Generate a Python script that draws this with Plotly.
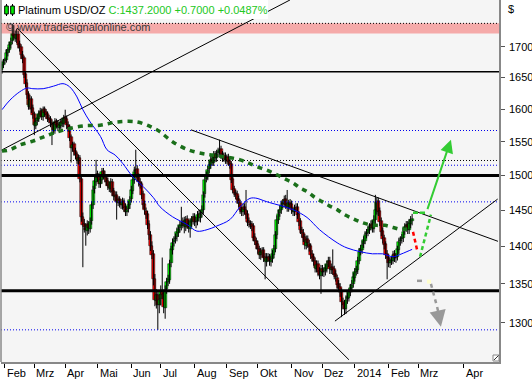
import numpy as np
import plotly.graph_objects as go

# ---------------- data (daily Platinum USD/OZ candles, bar index = trading day) ----------------
opens = [
1662,1670,1676,1678,1690,1695,1702,1709,1726,1719,
1712,1721,1704,1699,1687,1681,1655,1641,1623,1604,
1615,1601,1592,1574,1581,1585,1593,1597,1587,1600,
1595,1592,1586,1584,1579,1576,1567,1581,1577,1571,
1574,1581,1577,1587,1585,1576,1572,1557,1540,1546,
1536,1531,1521,1526,1495,1441,1431,1426,1421,1431,
1424,1435,1457,1480,1491,1502,1498,1487,1493,1506,
1501,1497,1492,1486,1481,1491,1477,1469,1472,1461,
1466,1461,1457,1463,1455,1447,1452,1457,1466,1478,
1493,1506,1509,1498,1491,1487,1473,1459,1449,1445,
1431,1416,1401,1390,1357,1328,1336,1322,1330,1341,
1337,1319,1343,1353,1355,1377,1395,1406,1410,1413,
1419,1425,1428,1431,1435,1427,1438,1431,1424,1433,
1436,1441,1433,1435,1445,1439,1446,1450,1473,1495,
1499,1509,1515,1524,1519,1531,1525,1533,1534,1539,
1531,1525,1529,1522,1527,1521,1517,1495,1480,1474,
1473,1466,1461,1450,1447,1455,1451,1445,1435,1431,
1431,1428,1413,1407,1403,1397,1388,1391,1395,1386,
1379,1386,1386,1379,1383,1389,1397,1415,1436,1446,
1450,1459,1459,1466,1459,1453,1461,1459,1450,1447,
1453,1455,1445,1435,1422,1419,1413,1401,1410,1404,
1400,1390,1386,1381,1370,1376,1367,1361,1370,1365,
1367,1370,1377,1381,1368,1372,1369,1363,1358,1350,
1346,1340,1327,1324,1317,1330,1332,1340,1344,1350,
1358,1366,1368,1381,1393,1395,1403,1408,1417,1419,
1422,1428,1431,1424,1436,1450,1463,1449,1435,1421,
1411,1403,1390,1384,1377,1381,1381,1390,1384,1386,
1395,1407,1410,1411,1421,1426,1430,1422,1431,1435,
]
highs = [
1676,1680,1682,1696,1699,1708,1715,1738,1736,1727,
1730,1726,1710,1704,1693,1685,1660,1647,1628,1622,
1620,1607,1596,1586,1592,1598,1602,1601,1604,1604,
1600,1596,1591,1589,1584,1580,1586,1585,1582,1580,
1585,1585,1591,1599,1590,1581,1576,1561,1550,1550,
1541,1535,1531,1530,1499,1447,1438,1432,1436,1435,
1440,1463,1485,1498,1523,1507,1503,1500,1511,1511,
1507,1502,1497,1491,1496,1495,1482,1477,1477,1470,
1470,1466,1468,1467,1460,1456,1463,1470,1485,1500,
1513,1538,1515,1503,1496,1491,1478,1464,1454,1449,
1436,1421,1407,1395,1363,1343,1341,1337,1348,1385,
1342,1348,1358,1362,1382,1401,1411,1414,1418,1426,
1429,1435,1455,1440,1441,1442,1443,1437,1439,1442,
1446,1446,1441,1449,1451,1450,1457,1477,1500,1506,
1514,1522,1529,1529,1536,1536,1538,1541,1553,1544,
1536,1534,1534,1531,1532,1526,1521,1500,1485,1479,
1478,1471,1465,1455,1460,1460,1479,1450,1440,1436,
1435,1432,1418,1412,1408,1401,1398,1399,1399,1391,
1391,1391,1390,1388,1395,1402,1421,1443,1451,1457,
1464,1466,1471,1472,1479,1465,1466,1464,1455,1458,
1460,1460,1449,1439,1427,1424,1417,1415,1415,1409,
1404,1395,1390,1385,1381,1381,1372,1375,1375,1372,
1376,1381,1386,1386,1377,1396,1374,1368,1362,1355,
1351,1344,1332,1329,1335,1339,1344,1350,1355,1365,
1371,1374,1386,1398,1402,1408,1414,1421,1424,1428,
1432,1436,1436,1443,1472,1468,1468,1454,1440,1426,
1416,1407,1395,1389,1386,1387,1394,1395,1391,1401,
1412,1414,1417,1426,1432,1435,1435,1438,1442,1445,
]
lows = [
1656,1665,1671,1674,1684,1690,1697,1704,1711,1708,
1706,1697,1692,1680,1673,1649,1634,1616,1599,1599,
1594,1585,1560,1569,1575,1580,1587,1583,1582,1588,
1585,1580,1578,1572,1545,1562,1562,1570,1566,1566,
1569,1572,1572,1578,1569,1565,1551,1519,1535,1529,
1524,1517,1516,1490,1434,1372,1419,1401,1415,1417,
1419,1430,1452,1474,1485,1491,1482,1482,1488,1494,
1490,1485,1479,1476,1475,1470,1464,1463,1437,1456,
1454,1452,1451,1448,1442,1442,1447,1452,1461,1473,
1488,1500,1491,1484,1481,1466,1452,1444,1438,1424,
1409,1394,1383,1348,1321,1318,1291,1312,1322,1330,
1312,1305,1337,1347,1350,1372,1389,1400,1404,1407,
1413,1419,1422,1425,1418,1421,1424,1419,1412,1427,
1430,1428,1425,1429,1434,1433,1440,1445,1468,1490,
1493,1503,1510,1514,1514,1520,1520,1527,1529,1524,
1520,1520,1517,1517,1514,1510,1489,1474,1469,1466,
1459,1454,1445,1442,1442,1444,1438,1428,1426,1424,
1421,1407,1402,1396,1390,1383,1382,1385,1379,1356,
1373,1379,1374,1373,1378,1384,1392,1410,1431,1441,
1445,1453,1454,1452,1448,1448,1452,1445,1442,1442,
1448,1438,1428,1417,1412,1406,1396,1396,1398,1393,
1383,1379,1374,1365,1365,1360,1356,1337,1360,1359,
1361,1365,1372,1363,1363,1362,1356,1353,1343,1339,
1333,1307,1317,1310,1311,1324,1327,1334,1339,1345,
1353,1361,1363,1376,1388,1390,1398,1403,1411,1414,
1417,1422,1419,1419,1431,1444,1442,1428,1414,1404,
1396,1383,1356,1372,1371,1375,1376,1379,1378,1381,
1390,1401,1404,1406,1416,1420,1417,1417,1425,1429,
]
closes = [
1670,1675,1678,1690,1694,1702,1708,1725,1718,1714,
1720,1703,1698,1686,1680,1654,1640,1622,1606,1614,
1600,1591,1575,1580,1586,1592,1596,1588,1599,1594,
1591,1585,1583,1578,1575,1568,1580,1576,1572,1575,
1580,1578,1586,1584,1575,1571,1556,1541,1545,1535,
1530,1522,1526,1495,1440,1430,1427,1422,1430,1425,
1434,1458,1479,1492,1501,1497,1488,1494,1505,1500,
1496,1491,1485,1482,1490,1476,1470,1471,1462,1465,
1460,1458,1462,1454,1448,1451,1458,1465,1479,1494,
1505,1508,1497,1490,1486,1472,1458,1450,1444,1430,
1415,1400,1389,1356,1329,1335,1323,1329,1340,1336,
1320,1342,1352,1356,1376,1396,1405,1409,1412,1420,
1424,1429,1430,1434,1428,1437,1430,1425,1434,1437,
1440,1434,1434,1444,1440,1445,1451,1472,1494,1500,
1508,1516,1523,1520,1530,1526,1532,1535,1538,1530,
1526,1528,1523,1526,1520,1516,1494,1479,1475,1472,
1465,1460,1451,1448,1454,1450,1444,1434,1432,1430,
1427,1412,1408,1402,1396,1389,1392,1394,1385,1380,
1385,1385,1380,1382,1390,1396,1416,1437,1445,1451,
1458,1460,1465,1458,1454,1460,1458,1451,1448,1452,
1454,1444,1434,1423,1418,1412,1402,1409,1405,1399,
1389,1385,1380,1371,1375,1366,1362,1369,1366,1366,
1371,1376,1380,1369,1371,1368,1362,1359,1349,1345,
1339,1326,1323,1318,1329,1333,1339,1345,1349,1359,
1365,1369,1380,1392,1396,1402,1409,1416,1418,1423,
1427,1430,1425,1437,1451,1462,1448,1434,1420,1410,
1402,1389,1385,1378,1380,1382,1389,1385,1385,1396,
1406,1409,1412,1420,1427,1429,1423,1432,1436,1437.2,
]

# moving averages (bar index, price)
ma_fast_x = [0,5.4,12,17,21,28,35,41.5,46,51,55,60,67,71.4,77,82,89,96,103,107.5,116,126,132.6,
             139.5,146,155,162,168.7,173.5,177.6,182,189,198,207.5,216,228,234.7,243.5,252,259,266,270.7,275.5,279]
ma_fast_y = [1599,1614,1627,1633,1632,1632,1636,1640,1635,1619,1599,1580,1558,1538,1530,1518,1498,1484,1468,1455,1441,1430,1421,
             1423,1428,1437,1455,1467,1467,1464,1461,1457,1451,1440,1423,1405,1398,1393,1390,1390,1386,1389,1393,1396]
ma_slow_x = [0,5.4,12,21,28,35,44,55,66.7,78,92,102,107.5,116,126.5,137,143.5,153,162,166.7,173.5,181,187,192.5,
             198,202.7,208,213,218,223,228,233,239,243.5,248,255,260.5,266,272,276,279]
ma_slow_y = [1536,1538,1545,1551,1557,1563,1569,1574,1575,1580,1580,1572,1565,1550,1538,1532,1530,1527,1523,1519,1513,1507,1501,1495,
             1489,1482,1476,1468,1462,1456,1451,1444,1438,1434,1431,1429,1429,1426,1423,1424,1424]

# axis ticks
month_ticks = [2, 22, 43, 65, 88, 108, 131, 153, 174, 197, 218, 240, 263, 283, 314]
month_labels = ["Feb", "Mrz", "Apr", "Mai", "Jun", "Jul", "Aug", "Sep", "Okt", "Nov", "Dez", "2014", "Feb", "Mrz", "Apr"]
price_ticks = [1300, 1350, 1400, 1450, 1500, 1550, 1600, 1650, 1700]

# horizontal levels
thick_levels = [1500, 1341]
thin_levels = [1659]
blue_dot_levels = [1567, 1515, 1462, 1291]
black_dot_levels = [1522, 1739]
resistance_zone = [1722, 1739]

# trend lines (bar index, price) pairs
trend_lines = [
    ([10.2, 236.0], [1731, 1254]),
    ([-0.7, 195.9], [1537, 1779]),
    ([128.6, 337.4], [1568, 1407]),
    ([226.5, 337.2], [1302, 1466]),
]

# projection paths
proj_red_x, proj_red_y = [279.6, 282.3], [1420, 1396]
proj_up_x, proj_up_y = [284.4, 291.8], [1386, 1444]
proj_flat_x, proj_flat_y = [279.6, 287.8], [1446.7, 1446.7]
arrow_up = (289.1, 1449.6, 305.4, 1553)
gray_flat_x, gray_flat_y = [282.3, 286.4], [1354, 1354]
gray_path_x, gray_path_y = [291.8, 293.9, 296.0, 297.5], [1350, 1336, 1320, 1308]
gray_arrow = (296.5, 1314, 298.6, 1295)
gray_dot = (290.5, 1353)

X0, X1 = -0.68, 338.1
LOGY0, LOGY1 = 3.09735, 3.25016

FONT = "Liberation Sans, Arial, sans-serif"

fig = go.Figure()

# resistance zone (pink band)
fig.add_trace(go.Scatter(x=[X0, X1, X1, X0], y=[resistance_zone[0], resistance_zone[0], resistance_zone[1], resistance_zone[1]],
                         fill="toself", fillcolor="#f5aaa9", line=dict(width=0), mode="lines", hoverinfo="skip"))

# candles: wicks
wx, wy = [], []
for i, (h, l) in enumerate(zip(highs, lows)):
    wx += [i, i, None]
    wy += [l, h, None]
fig.add_trace(go.Scatter(x=wx, y=wy, mode="lines", line=dict(color="black", width=1), hoverinfo="skip"))

# candles: bodies
idx = list(range(len(closes)))
base = [min(o, c) for o, c in zip(opens, closes)]
size = [max(abs(c - o), 0.8) for o, c in zip(opens, closes)]
cols = ["#00ff00" if c >= o else "#ff0000" for o, c in zip(opens, closes)]
fig.add_trace(go.Bar(x=idx, y=size, base=base, width=2.0, marker=dict(color=cols, line=dict(color="black", width=0.5)),
                     hoverinfo="skip"))

# horizontal lines
for lv in thick_levels:
    fig.add_trace(go.Scatter(x=[X0, X1], y=[lv, lv], mode="lines", line=dict(color="black", width=3), hoverinfo="skip"))
for lv in thin_levels:
    fig.add_trace(go.Scatter(x=[X0, X1], y=[lv, lv], mode="lines", line=dict(color="black", width=1.5), hoverinfo="skip"))
for lv in blue_dot_levels:
    fig.add_trace(go.Scatter(x=[X0, X1], y=[lv, lv], mode="lines", line=dict(color="#0000ee", width=1, dash="1px,2px"), hoverinfo="skip"))
for lv in black_dot_levels:
    fig.add_trace(go.Scatter(x=[X0, X1], y=[lv, lv], mode="lines", line=dict(color="black", width=1, dash="1px,2px"), hoverinfo="skip"))

# trend lines
for tx, ty in trend_lines:
    fig.add_trace(go.Scatter(x=tx, y=ty, mode="lines", line=dict(color="black", width=1), hoverinfo="skip"))

# moving averages
fig.add_trace(go.Scatter(x=ma_fast_x, y=ma_fast_y, mode="lines", line=dict(color="#0000ff", width=1, shape="spline"), hoverinfo="skip"))
fig.add_trace(go.Scatter(x=ma_slow_x, y=ma_slow_y, mode="lines", line=dict(color="#1a6f1a", width=3.5, dash="5px,5px", shape="spline"), hoverinfo="skip"))

# projections
fig.add_trace(go.Scatter(x=proj_red_x, y=proj_red_y, mode="lines", line=dict(color="#ff0000", width=2.5, dash="4px,3px"), hoverinfo="skip"))
fig.add_trace(go.Scatter(x=proj_up_x, y=proj_up_y, mode="lines", line=dict(color="#33cc33", width=2.5, dash="4px,3px"), hoverinfo="skip"))
fig.add_trace(go.Scatter(x=proj_flat_x, y=proj_flat_y, mode="lines", line=dict(color="#33cc33", width=2.5, dash="5px,2px"), hoverinfo="skip"))
fig.add_trace(go.Scatter(x=gray_flat_x, y=gray_flat_y, mode="lines", line=dict(color="#999999", width=2.5, dash="5px,2px"), hoverinfo="skip"))
fig.add_trace(go.Scatter(x=gray_path_x, y=gray_path_y, mode="lines", line=dict(color="#999999", width=2.5, dash="4px,4px"), hoverinfo="skip"))
fig.add_trace(go.Scatter(x=[gray_dot[0]], y=[gray_dot[1]], mode="markers",
                         marker=dict(color="#ffffcc", size=4, symbol="square"), hoverinfo="skip"))

annotations = []
annotations.append(dict(x=arrow_up[2], y=np.log10(arrow_up[3]), ax=arrow_up[0], ay=np.log10(arrow_up[1]),
                        xref="x", yref="y", axref="x", ayref="y", showarrow=True, arrowhead=2, arrowsize=1.3,
                        arrowwidth=2, arrowcolor="#33cc33", text=""))
annotations.append(dict(x=gray_arrow[2], y=np.log10(gray_arrow[3]), ax=gray_arrow[0], ay=np.log10(gray_arrow[1]),
                        xref="x", yref="y", axref="x", ayref="y", showarrow=True, arrowhead=2, arrowsize=1.3,
                        arrowwidth=2.5, arrowcolor="#999999", text=""))

W, H = 498.0, 362.0
def px(x):
    return (x - 1) / W
def py(y):
    return 1 - y / H

# month labels (left-aligned next to tick)
for t, lab in zip(month_ticks, month_labels):
    annotations.append(dict(x=t, y=py(373), xref="x", yref="paper", text=lab, showarrow=False,
                            xanchor="left", yanchor="middle", xshift=0,
                            font=dict(family=FONT, size=11, color="black")))
# price labels on the right
for v in price_ticks:
    annotations.append(dict(x=px(507), y=np.log10(v), xref="paper", yref="y", text=str(v), showarrow=False,
                            xanchor="left", yanchor="middle", font=dict(family=FONT, size=11, color="black")))

annotations.append(dict(x=px(16), y=py(10), xref="paper", yref="paper", showarrow=False, xanchor="left", yanchor="middle",
                        text="Platinum USD/OZ <span style='color:#22c822'>C:1437.2000 +0.7000 +0.0487%</span>",
                        font=dict(family=FONT, size=11, color="black")))
annotations.append(dict(x=px(4), y=py(27), xref="paper", yref="paper", showarrow=False, xanchor="left", yanchor="middle",
                        text="© www.tradesignalonline.com", font=dict(family=FONT, size=11, color="#3a3a3a")))
annotations.append(dict(x=px(506), y=py(9), xref="paper", yref="paper", showarrow=False, xanchor="left", yanchor="middle",
                        text="$", font=dict(family=FONT, size=11, color="black")))

shapes = []
# title white box
shapes.append(dict(type="rect", xref="paper", yref="paper", x0=px(0), x1=px(268), y0=py(19), y1=1.0,
                   fillcolor="white", line=dict(width=0), layer="above"))
# icon candles
for cx in (6.5, 12.5):
    shapes.append(dict(type="line", xref="paper", yref="paper", x0=px(cx), x1=px(cx), y0=py(16), y1=py(4),
                       line=dict(color="black", width=1), layer="above"))
    shapes.append(dict(type="rect", xref="paper", yref="paper", x0=px(cx - 1.8), x1=px(cx + 1.8), y0=py(14), y1=py(6),
                       fillcolor="#00ee00", line=dict(color="black", width=1), layer="above"))
# left border
shapes.append(dict(type="line", xref="paper", yref="paper", x0=0, x1=0, y0=0, y1=1, line=dict(color="#888888", width=1.5)))
# resize icon
shapes.append(dict(type="rect", xref="paper", yref="paper", x0=px(493), x1=px(499), y0=py(361), y1=py(355),
                   fillcolor="white", line=dict(color="#888888", width=1), layer="above"))
shapes.append(dict(type="line", xref="paper", yref="paper", x0=px(494), x1=px(498.5), y0=py(360), y1=py(355.5),
                   line=dict(color="#333333", width=1), layer="above"))

fig.update_layout(
    width=532, height=380,
    margin=dict(l=1, r=33, t=0, b=18),
    paper_bgcolor="white", plot_bgcolor="#f5f5f5",
    showlegend=False, hovermode=False, barmode="overlay", bargap=0,
    annotations=annotations, shapes=shapes,
    xaxis=dict(range=[X0, X1], tickvals=month_ticks, ticktext=[""] * len(month_ticks), ticks="outside", ticklen=4,
               tickcolor="black", showline=True, linecolor="#888888", linewidth=1.5, showgrid=False, zeroline=False,
               fixedrange=True),
    yaxis=dict(type="log", range=[LOGY0, LOGY1], side="right", tickvals=price_ticks,
               ticktext=[""] * len(price_ticks), ticks="outside", ticklen=4, tickcolor="#555555",
               showline=True, linecolor="#888888", linewidth=1.5, showgrid=False, zeroline=False, fixedrange=True),
)

fig.write_html("out.html", config={"displayModeBar": False},
               post_script="document.body.style.margin='0px';document.body.style.overflow='hidden';")
